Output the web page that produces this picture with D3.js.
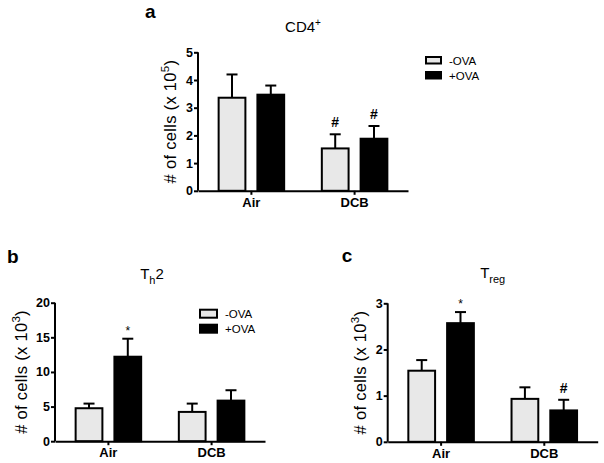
<!DOCTYPE html>
<html>
<head>
<meta charset="utf-8">
<script src="https://cdn.jsdelivr.net/npm/d3@7"></script>
<style>
  body { margin: 0; background: #fff; }
  text { font-family: Arial, "Liberation Sans", sans-serif; }
</style>
</head>
<body>
<div id="chart"></div>
<script>
// groups and series
const groups = ['Air', 'DCB'];
const series = ['-OVA', '+OVA'];

// CD4+ (x 10^5)
const cd4Minus = [3.36, 1.53];
const cd4Plus = [3.47, 1.88];
const cd4MinusErr = [0.84, 0.51];
const cd4PlusErr = [0.33, 0.46];
const cd4MinusMark = ['', '#'];
const cd4PlusMark = ['', '#'];
const cd4Ticks = [0, 1, 2, 3, 4, 5];

// Th2 (x 10^3)
const th2Minus = [4.76, 4.23];
const th2Plus = [12.2, 5.86];
const th2MinusErr = [0.67, 1.2];
const th2PlusErr = [2.6, 1.5];
const th2MinusMark = ['', ''];
const th2PlusMark = ['*', ''];
const th2Ticks = [0, 5, 10, 15, 20];

// Treg (x 10^3)
const tregMinus = [1.54, 0.93];
const tregPlus = [2.57, 0.68];
const tregMinusErr = [0.23, 0.25];
const tregPlusErr = [0.24, 0.23];
const tregMinusMark = ['', ''];
const tregPlusMark = ['*', '#'];
const tregTicks = [0, 1, 2, 3];

const fills = ['#e8e8e8', '#000'];

const svg = d3.select('#chart').append('svg')
	.attr('width', 604)
	.attr('height', 463);

function drawPanel(p) {
	const g = svg.append('g').attr('transform', 'translate(' + p.left + ',' + p.top + ')');
	const width = 210, height = 138.5;

	const x = d3.scaleBand().domain(groups).range([0, width]).paddingInner(0.365).paddingOuter(0.2);
	const xs = d3.scaleBand().domain(series).range([0, x.bandwidth()]).paddingInner(0.31);
	const y = d3.scaleLinear().domain([0, p.max]).range([height, 0]);

	const rows = [];
	groups.forEach((grp, i) => {
		series.forEach((s, j) => {
			rows.push({
				group: grp, series: s, idx: j,
				value: p.values[j][i], err: p.errs[j][i], mark: p.marks[j][i]
			});
		});
	});

	// error bars (upper only)
	rows.forEach(d => {
		const cx = x(d.group) + xs(d.series) + xs.bandwidth() / 2;
		g.append('line')
			.attr('x1', cx).attr('x2', cx)
			.attr('y1', y(d.value)).attr('y2', y(d.value + d.err))
			.attr('stroke', '#000').attr('stroke-width', 2);
		g.append('line')
			.attr('x1', cx - 5.5).attr('x2', cx + 5.5)
			.attr('y1', y(d.value + d.err)).attr('y2', y(d.value + d.err))
			.attr('stroke', '#000').attr('stroke-width', 2);
		if (d.mark) {
			g.append('text')
				.attr('x', cx)
				.attr('y', y(d.value + d.err) - (d.mark === '*' ? 4 : 7))
				.attr('text-anchor', 'middle')
				.attr('font-size', d.mark === '*' ? 12 : 14)
				.attr('font-weight', d.mark === '#' ? 'bold' : 'normal')
				.text(d.mark);
		}
	});

	g.selectAll('rect.bar')
		.data(rows)
		.enter()
		.append('rect')
		.attr('class', 'bar')
		.attr('x', d => x(d.group) + xs(d.series))
		.attr('y', d => y(d.value))
		.attr('width', xs.bandwidth())
		.attr('height', d => height - y(d.value))
		.attr('fill', d => fills[d.idx])
		.attr('stroke', '#000')
		.attr('stroke-width', 2);

	// axes
	const ya = g.append('g')
		.call(d3.axisLeft(y).tickValues(p.ticks).tickFormat(d3.format('d')).tickSize(4).tickPadding(1));
	const xa = g.append('g')
		.attr('transform', 'translate(0,' + height + ')')
		.call(d3.axisBottom(x).tickSize(4).tickPadding(3).tickSizeOuter(0));
	[ya, xa].forEach(a => {
		a.select('.domain').attr('stroke-width', 2);
		a.selectAll('.tick line').attr('stroke-width', 2);
		a.selectAll('.tick text')
			.attr('font-family', 'Arial, "Liberation Sans", sans-serif')
			.attr('font-weight', 'bold')
			.attr('font-size', 12.5)
			.attr('fill', '#000');
	});
	ya.select('.domain').attr('d', 'M0,' + height + 'V0');
	xa.selectAll('.tick text').attr('font-size', 13);

	// y label
	const yl = g.append('text')
		.attr('transform', 'translate(' + p.ylabelX + ',' + height / 2 + ') rotate(-90)')
		.attr('text-anchor', 'middle')
		.attr('letter-spacing', 0.3)
		.attr('font-size', 16.5);
	yl.append('tspan').text('# of cells (x 10');
	yl.append('tspan').attr('dy', -7).attr('font-size', 11.5).text(p.exp);
	yl.append('tspan').attr('dy', 7).text(')');

	// title
	const t = g.append('text')
		.attr('x', width / 2 + p.titleDx)
		.attr('y', p.titleY)
		.attr('text-anchor', 'middle')
		.attr('font-size', 15);
	t.append('tspan').text(p.title[0]);
	if (p.title[1]) t.append('tspan').attr('dy', p.title[2]).attr('font-size', p.title[3]).text(p.title[1]);
	if (p.title[4]) t.append('tspan').attr('dy', -p.title[2]).attr('font-size', 15).text(p.title[4]);

	// panel letter
	g.append('text')
		.attr('x', p.letterX)
		.attr('y', p.letterY)
		.attr('font-size', 19)
		.attr('font-weight', 'bold')
		.text(p.letter);

	// legend
	if (p.legend) {
		series.forEach((s, j) => {
			g.append('rect')
				.attr('x', p.legend[0])
				.attr('y', p.legend[1] + j * p.legend[4])
				.attr('width', p.legend[2])
				.attr('height', p.legend[3])
				.attr('fill', fills[j])
				.attr('stroke', '#000')
				.attr('stroke-width', 2);
			g.append('text')
				.attr('x', p.legend[0] + p.legend[2] + 8)
				.attr('y', p.legend[1] + j * p.legend[4] + p.legend[3] / 2 + 4)
				.attr('font-size', 11.5)
				.text(s);
		});
	}
}

drawPanel({
	left: 198, top: 52.3, max: 5, ticks: cd4Ticks, exp: '5',
	values: [cd4Minus, cd4Plus], errs: [cd4MinusErr, cd4PlusErr], marks: [cd4MinusMark, cd4PlusMark],
	ylabelX: -22, title: ['CD4', '+', -6, 10], titleDx: 0, titleY: -20,
	letter: 'a', letterX: -53, letterY: -34.5
});

drawPanel({
	left: 55, top: 302.7, max: 20, ticks: th2Ticks, exp: '3',
	values: [th2Minus, th2Plus], errs: [th2MinusErr, th2PlusErr], marks: [th2MinusMark, th2PlusMark],
	ylabelX: -28, title: ['T', 'h', 5, 11, '2'], titleDx: -8, titleY: -24,
	letter: 'b', letterX: -48, letterY: -40,
	legend: [145, 7, 17, 8, 15]
});

drawPanel({
	left: 387.7, top: 303.3, max: 3, ticks: tregTicks, exp: '3',
	values: [tregMinus, tregPlus], errs: [tregMinusErr, tregPlusErr], marks: [tregMinusMark, tregPlusMark],
	ylabelX: -22, title: ['T', 'reg', 5, 11], titleDx: 0, titleY: -25,
	letter: 'c', letterX: -46, letterY: -41
});

// legend for panel a
const legA = svg.append('g').attr('transform', 'translate(426,57)');
series.forEach((s, j) => {
	legA.append('rect')
		.attr('x', 0).attr('y', j * 15)
		.attr('width', 15).attr('height', 6.5)
		.attr('fill', fills[j]).attr('stroke', '#000').attr('stroke-width', 2);
	legA.append('text')
		.attr('x', 23).attr('y', j * 15 + 7.5)
		.attr('font-size', 11.5)
		.text(s);
});
</script>
</body>
</html>
